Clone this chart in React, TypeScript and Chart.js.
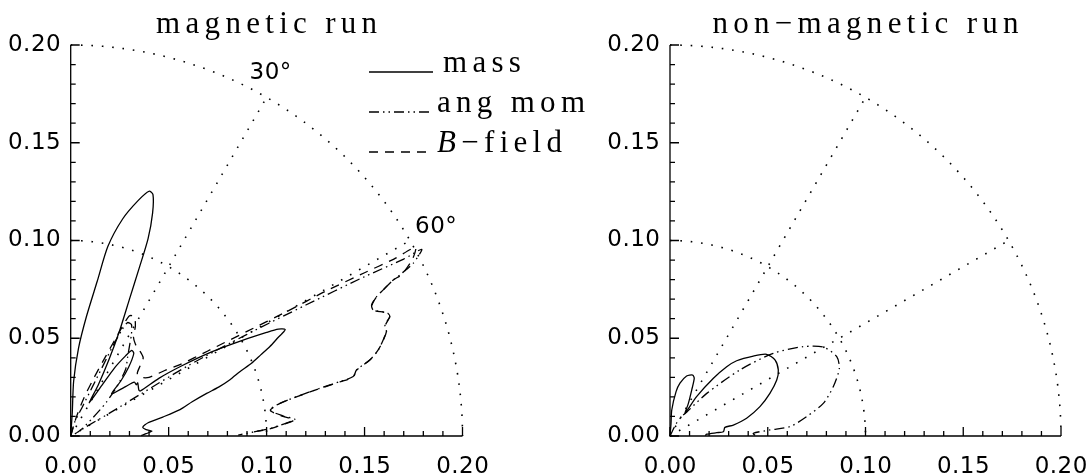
import { useEffect, useRef } from "react";
import { Chart, registerables } from "chart.js";

Chart.register(...registerables);

// ---- axes -------------------------------------------------------------
const AXIS_MIN = 0;
const AXIS_MAX = 0.2;
const majorTicks = [0, 0.05, 0.1, 0.15, 0.2];
const tickLabels = ["0.00", "0.05", "0.10", "0.15", "0.20"];
const minorTicks = [
  0.01, 0.02, 0.03, 0.04, 0.06, 0.07, 0.08, 0.09, 0.11, 0.12, 0.13, 0.14, 0.16, 0.17, 0.18, 0.19,
];

// ---- polar guide lines (radius in flux units, angle from the pole) -----
const gridRadii = [0.1, 0.2];
const gridAngles = [30, 60];
const angleLabels = ["30°", "60°"];

const panelTitles = ["magnetic run", "non−magnetic run"];
const legendLabels = ["mass", "ang mom", "B−field"];

// ---- magnetic run ------------------------------------------------------
const magMassX = [
  0.0, 0.0008, 0.0015, 0.004, 0.008, 0.0135, 0.019, 0.0265, 0.0345, 0.04, 0.042, 0.0418, 0.0395,
  0.035, 0.03, 0.025, 0.0195, 0.014, 0.0095, 0.016, 0.0225, 0.028, 0.0312, 0.0322, 0.0295, 0.0255,
  0.0208, 0.0275, 0.0325, 0.0335, 0.0342, 0.0348, 0.0355, 0.045, 0.0565, 0.0705, 0.088, 0.1, 0.106,
  0.1095, 0.1075, 0.106, 0.1017, 0.097, 0.0923, 0.0865, 0.0813, 0.0755, 0.0694, 0.062, 0.0558,
  0.047, 0.0395, 0.0368, 0.0385, 0.0415, 0.0385, 0.036,
];
const magMassY = [
  0.0, 0.012, 0.028, 0.045, 0.061, 0.079, 0.097, 0.111, 0.1205, 0.1252, 0.1235, 0.114, 0.101,
  0.086, 0.07, 0.054, 0.039, 0.026, 0.017, 0.026, 0.035, 0.041, 0.0438, 0.0422, 0.035, 0.028,
  0.0215, 0.025, 0.0275, 0.0262, 0.0272, 0.0235, 0.023, 0.0295, 0.0358, 0.0424, 0.049, 0.053,
  0.0547, 0.0545, 0.052, 0.0505, 0.0458, 0.0415, 0.0372, 0.033, 0.0288, 0.025, 0.0218, 0.0175,
  0.0135, 0.0097, 0.0068, 0.0045, 0.0033, 0.0025, 0.0012, 0.0002,
];

const magAngMomX = [
  0.0, 0.002, 0.006, 0.011, 0.017, 0.022, 0.026, 0.029, 0.031, 0.031, 0.03, 0.029, 0.028, 0.024,
  0.018, 0.011, 0.005, 0.002, 0.008, 0.02, 0.035, 0.06, 0.09, 0.12, 0.15, 0.17, 0.1792, 0.1748,
  0.168, 0.1646, 0.1595, 0.1561, 0.1536, 0.1544, 0.1595, 0.162, 0.1629, 0.1604, 0.1612, 0.1595,
  0.157, 0.1527, 0.1459, 0.1442, 0.1374, 0.1272, 0.1153, 0.1068, 0.1017, 0.1085, 0.1144, 0.104,
  0.1, 0.0898, 0.0855,
];
const magAngMomY = [
  0.0, 0.007, 0.015, 0.025, 0.037, 0.047, 0.054, 0.058, 0.057, 0.052, 0.046, 0.04, 0.034, 0.026,
  0.017, 0.009, 0.003, 0.001, 0.0048, 0.0118, 0.021, 0.036, 0.052, 0.067, 0.0815, 0.0905, 0.0955,
  0.0883, 0.0824, 0.0798, 0.0747, 0.0712, 0.067, 0.0645, 0.0635, 0.0627, 0.061, 0.0568, 0.0542,
  0.0491, 0.044, 0.0389, 0.0338, 0.0304, 0.0278, 0.0244, 0.0201, 0.0167, 0.0133, 0.0102, 0.0085,
  0.0045, 0.0034, 0.0014, 0.0005,
];

const magFieldX = [
  0.0, 0.003, 0.007, 0.012, 0.018, 0.023, 0.027, 0.03, 0.0325, 0.033, 0.032, 0.033, 0.035, 0.037,
  0.0355, 0.034, 0.036, 0.04, 0.048, 0.0558, 0.07, 0.09, 0.11, 0.13, 0.15, 0.165, 0.176, 0.1745,
  0.169, 0.1645, 0.1593, 0.156, 0.1538, 0.1548, 0.1598, 0.1622, 0.1628, 0.1606, 0.1613, 0.1596,
  0.1568, 0.1525, 0.1458, 0.1443, 0.1372, 0.127, 0.1152, 0.1066, 0.1019, 0.1083, 0.1142, 0.1038,
  0.0995, 0.09,
];
const magFieldY = [
  0.0, 0.01, 0.02, 0.03, 0.041, 0.05, 0.057, 0.0615, 0.061, 0.056, 0.051, 0.047, 0.044, 0.04,
  0.036, 0.032, 0.03, 0.03, 0.0335, 0.0365, 0.0435, 0.0535, 0.0635, 0.074, 0.0835, 0.0905, 0.0965,
  0.0905, 0.0826, 0.0797, 0.0745, 0.071, 0.0668, 0.0643, 0.0633, 0.0625, 0.0608, 0.0566, 0.054,
  0.049, 0.0438, 0.0387, 0.0336, 0.0302, 0.0276, 0.0242, 0.02, 0.0165, 0.0131, 0.01, 0.0083,
  0.0043, 0.0032, 0.0015,
];

// ---- non-magnetic run --------------------------------------------------
const hydMassX = [
  0.0, 0.0005, 0.0009, 0.0031, 0.0051, 0.0085, 0.0116, 0.0124, 0.0111, 0.0094, 0.0077, 0.0136,
  0.0222, 0.029, 0.0341, 0.0426, 0.0494, 0.0537, 0.0554, 0.0546, 0.0511, 0.046, 0.0392, 0.0324,
  0.0281, 0.0273, 0.0239, 0.0188, 0.018,
];
const hydMassY = [
  0.0, 0.006, 0.0133, 0.0227, 0.027, 0.0307, 0.0312, 0.0295, 0.0235, 0.0167, 0.0116, 0.0201,
  0.0295, 0.0354, 0.0385, 0.0409, 0.0418, 0.0389, 0.0338, 0.0286, 0.0218, 0.015, 0.0091, 0.0056,
  0.0044, 0.0022, 0.0017, 0.0009, 0.0002,
];

const hydAngMomX = [
  0.0, 0.003, 0.006, 0.0085, 0.0188, 0.0358, 0.0528, 0.0682, 0.0784, 0.0853, 0.0866, 0.0835,
  0.0784, 0.0699, 0.0614, 0.0511, 0.0426, 0.0435,
];
const hydAngMomY = [
  0.0, 0.006, 0.01, 0.0122, 0.0218, 0.0338, 0.0423, 0.0457, 0.0455, 0.0406, 0.0345, 0.0252,
  0.0167, 0.0099, 0.0048, 0.0031, 0.0014, 0.0003,
];

// ---- styles ------------------------------------------------------------
const INK = "#000";
const DASH_SOLID: number[] = [];
const DASH_ANGMOM = [10, 4, 1.5, 4, 1.5, 4];
const DASH_FIELD = [9, 7];
const DASH_GUIDE = [1.6, 8.8];
const TICK_FONT = "23px 'DejaVu Sans'";
const TEXT_FONT = "31px 'Liberation Serif'";
const TEXT_SPACING = 5.3;

type Series = { x: number[]; y: number[]; dash: number[] };

function toPoints(xs: number[], ys: number[]) {
  return xs.map((x, i) => ({ x, y: ys[i] }));
}

function drawSpaced(
  ctx: CanvasRenderingContext2D,
  text: string,
  x: number,
  y: number,
  align: "left" | "center" | "right",
  spacing: number
) {
  (ctx as any).letterSpacing = spacing + "px";
  const w = ctx.measureText(text).width - spacing;
  let left = x;
  if (align === "center") left = x - w / 2;
  if (align === "right") left = x - w;
  ctx.textAlign = "left";
  ctx.fillText(text, left, y);
  (ctx as any).letterSpacing = "0px";
  return w;
}

function makeFramePlugin(title: string, withKey: boolean) {
  return {
    id: "polarFrame",
    beforeDatasetsDraw(chart: any) {
      const { ctx } = chart;
      const xs = chart.scales.x;
      const ys = chart.scales.y;
      const cx = xs.getPixelForValue(0);
      const cy = ys.getPixelForValue(0);
      ctx.save();
      ctx.strokeStyle = INK;
      ctx.lineWidth = 1.6;
      ctx.lineCap = "butt";
      ctx.setLineDash(DASH_GUIDE);
      for (const r of gridRadii) {
        const rx = xs.getPixelForValue(r) - cx;
        const ry = cy - ys.getPixelForValue(r);
        ctx.beginPath();
        ctx.ellipse(cx, cy, rx, ry, 0, -Math.PI / 2, 0);
        ctx.stroke();
      }
      const rOuter = gridRadii[gridRadii.length - 1];
      for (const a of gridAngles) {
        const t = (a * Math.PI) / 180;
        ctx.beginPath();
        ctx.moveTo(cx, cy);
        ctx.lineTo(xs.getPixelForValue(rOuter * Math.sin(t)), ys.getPixelForValue(rOuter * Math.cos(t)));
        ctx.stroke();
      }
      ctx.restore();
    },
    afterDraw(chart: any) {
      const { ctx, chartArea } = chart;
      const xs = chart.scales.x;
      const ys = chart.scales.y;
      const left = xs.getPixelForValue(AXIS_MIN);
      const right = xs.getPixelForValue(AXIS_MAX);
      const bottom = ys.getPixelForValue(AXIS_MIN);
      const top = ys.getPixelForValue(AXIS_MAX);
      ctx.save();
      ctx.strokeStyle = INK;
      ctx.fillStyle = INK;
      ctx.setLineDash([]);
      ctx.lineWidth = 1.3;

      // axis lines
      ctx.beginPath();
      ctx.moveTo(left, top);
      ctx.lineTo(left, bottom);
      ctx.lineTo(right, bottom);
      ctx.stroke();

      // inward ticks
      ctx.beginPath();
      for (const v of majorTicks) {
        const py = ys.getPixelForValue(v);
        ctx.moveTo(left, py);
        ctx.lineTo(left + 9, py);
        const px = xs.getPixelForValue(v);
        ctx.moveTo(px, bottom);
        ctx.lineTo(px, bottom - 9);
      }
      for (const v of minorTicks) {
        const py = ys.getPixelForValue(v);
        ctx.moveTo(left, py);
        ctx.lineTo(left + 5, py);
        const px = xs.getPixelForValue(v);
        ctx.moveTo(px, bottom);
        ctx.lineTo(px, bottom - 5);
      }
      ctx.stroke();

      // tick labels
      ctx.font = TICK_FONT;
      ctx.textBaseline = "middle";
      majorTicks.forEach((v, i) => {
        drawSpaced(ctx, tickLabels[i], left - 10, ys.getPixelForValue(v), "right", 0.5);
      });
      ctx.textBaseline = "alphabetic";
      majorTicks.forEach((v, i) => {
        drawSpaced(ctx, tickLabels[i], xs.getPixelForValue(v), bottom + 37, "center", 0.5);
      });

      // panel title
      ctx.font = TEXT_FONT;
      drawSpaced(ctx, title, (chartArea.left + chartArea.right) / 2, 33, "center", TEXT_SPACING);

      if (withKey) {
        // angle labels at the ends of the guide spokes
        const rOuter = gridRadii[gridRadii.length - 1];
        const offsets = [
          [-17, -18],
          [5, -8],
        ];
        ctx.font = TICK_FONT;
        gridAngles.forEach((a, i) => {
          const t = (a * Math.PI) / 180;
          const px = xs.getPixelForValue(rOuter * Math.sin(t));
          const py = ys.getPixelForValue(rOuter * Math.cos(t));
          drawSpaced(ctx, angleLabels[i], px + offsets[i][0], py + offsets[i][1], "left", 0.5);
        });

        // line-style key
        const keyX0 = 369;
        const keyX1 = 433;
        const keyRows = [72, 112, 152];
        const keyDashes = [DASH_SOLID, DASH_ANGMOM, DASH_FIELD];
        ctx.lineWidth = 1.3;
        keyRows.forEach((ry, i) => {
          ctx.setLineDash(keyDashes[i]);
          ctx.beginPath();
          ctx.moveTo(keyX0, ry);
          ctx.lineTo(keyX1, ry);
          ctx.stroke();
        });
        ctx.setLineDash([]);
        ctx.font = TEXT_FONT;
        drawSpaced(ctx, legendLabels[0], 443, keyRows[0], "left", TEXT_SPACING);
        drawSpaced(ctx, legendLabels[1], 437, keyRows[1], "left", TEXT_SPACING);
        // "B" is set as a math italic symbol
        ctx.font = "italic " + TEXT_FONT;
        const bw = drawSpaced(ctx, legendLabels[2].slice(0, 1), 437, keyRows[2], "left", TEXT_SPACING);
        ctx.font = TEXT_FONT;
        drawSpaced(ctx, legendLabels[2].slice(1), 437 + bw + TEXT_SPACING, keyRows[2], "left", TEXT_SPACING);
      }
      ctx.restore();
    },
  };
}

function PolarPanel(props: {
  series: Series[];
  title: string;
  withKey: boolean;
  width: number;
  padding: { left: number; right: number; top: number; bottom: number };
  style: any;
}) {
  const ref = useRef<HTMLCanvasElement | null>(null);
  useEffect(() => {
    if (!ref.current) return;
    const chart = new Chart(ref.current, {
      type: "scatter",
      data: {
        datasets: props.series.map((s) => ({
          data: toPoints(s.x, s.y),
          showLine: true,
          borderColor: INK,
          borderWidth: 1.3,
          borderDash: s.dash,
          pointRadius: 0,
          pointHoverRadius: 0,
          tension: 0.25,
          fill: false,
          clip: 6,
        })),
      },
      options: {
        animation: false,
        responsive: false,
        devicePixelRatio: 1,
        events: [],
        layout: { padding: props.padding },
        plugins: { legend: { display: false }, tooltip: { enabled: false } },
        scales: {
          x: { type: "linear", min: AXIS_MIN, max: AXIS_MAX, display: false },
          y: { type: "linear", min: AXIS_MIN, max: AXIS_MAX, display: false },
        },
      },
      plugins: [makeFramePlugin(props.title, props.withKey)],
    } as any);
    return () => chart.destroy();
  }, []);
  return <canvas ref={ref} width={props.width} height={476} style={props.style} />;
}

export default function App() {
  const magSeries: Series[] = [
    { x: magMassX, y: magMassY, dash: DASH_SOLID },
    { x: magAngMomX, y: magAngMomY, dash: DASH_ANGMOM },
    { x: magFieldX, y: magFieldY, dash: DASH_FIELD },
  ];
  const hydSeries: Series[] = [
    { x: hydMassX, y: hydMassY, dash: DASH_SOLID },
    { x: hydAngMomX, y: hydAngMomY, dash: DASH_ANGMOM },
  ];
  return (
    <div
      style={{
        position: "absolute",
        left: 0,
        top: 0,
        width: 1091,
        height: 476,
        background: "#fff",
        overflow: "hidden",
      }}
    >
      <PolarPanel
        series={magSeries}
        title={panelTitles[0]}
        withKey={true}
        width={620}
        padding={{ left: 70.7, right: 157.5, top: 45, bottom: 40 }}
        style={{ position: "absolute", left: 0, top: 0 }}
      />
      <PolarPanel
        series={hydSeries}
        title={panelTitles[1]}
        withKey={false}
        width={546}
        padding={{ left: 125, right: 30, top: 45, bottom: 40 }}
        style={{ position: "absolute", left: 545, top: 0 }}
      />
    </div>
  );
}
